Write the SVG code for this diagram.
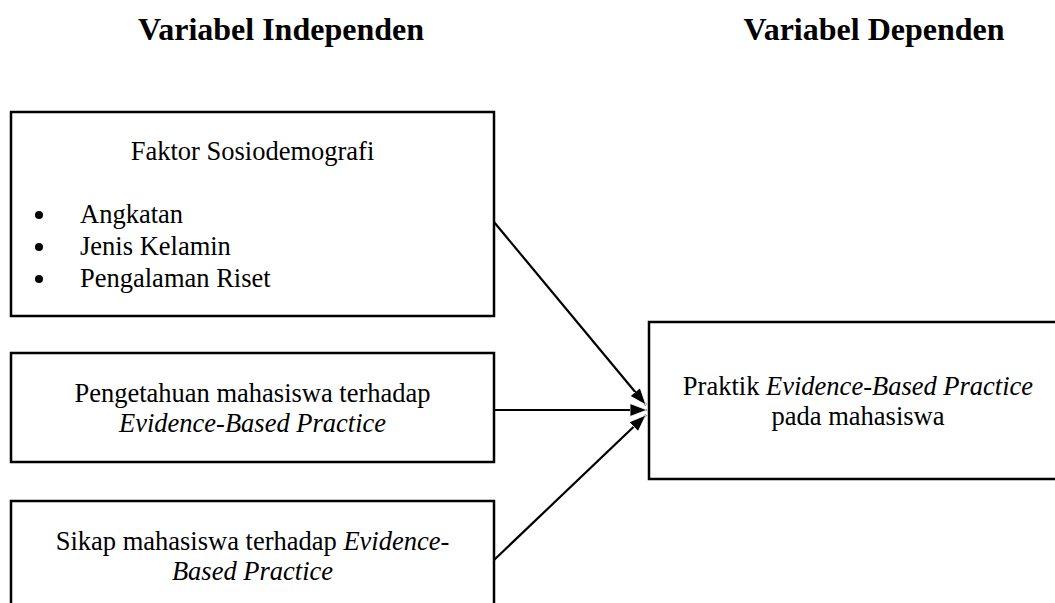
<svg xmlns="http://www.w3.org/2000/svg" width="1055" height="603" viewBox="0 0 1055 603">
<style>
.box{fill:#fff;stroke:#000;stroke-width:2.5}
.t{font-family:"Liberation Serif","Times New Roman",serif;font-size:26.5px;fill:#000}
.h{font-family:"Liberation Serif","Times New Roman",serif;font-size:32px;font-weight:bold;fill:#000}
.c{stroke:#000;stroke-width:2.2;fill:none}
.i{font-style:italic}
</style>
<defs>
<marker id="arr" viewBox="0 0 17 13" refX="17" refY="6.5" markerWidth="17" markerHeight="13" markerUnits="userSpaceOnUse" orient="auto">
<path d="M0,0 L17,6.5 L0,13 Z" fill="#000" stroke="#fff" stroke-width="0.8"/>
</marker>
</defs>
<text class="h" x="281" y="40" text-anchor="middle">Variabel Independen</text>
<text class="h" x="874" y="40" text-anchor="middle">Variabel Dependen</text>
<g id="connectors">
<line class="c" x1="494" y1="222" x2="646" y2="405" marker-end="url(#arr)"/>
<line class="c" x1="494" y1="410" x2="647" y2="410" marker-end="url(#arr)"/>
<line class="c" x1="494" y1="560" x2="646" y2="415" marker-end="url(#arr)"/>
</g>
<g id="node-sosiodemografi">
<rect class="box" x="11" y="112" width="483" height="204"/>
<text class="t" x="252.5" y="160" text-anchor="middle">Faktor Sosiodemografi</text>
<circle cx="39" cy="215" r="4"/>
<circle cx="39" cy="247" r="4"/>
<circle cx="39" cy="279" r="4"/>
<text class="t" x="80" y="223">Angkatan</text>
<text class="t" x="80" y="255">Jenis Kelamin</text>
<text class="t" x="80" y="287">Pengalaman Riset</text>
</g>
<g id="node-pengetahuan">
<rect class="box" x="11" y="353" width="483" height="109"/>
<text class="t" x="252.5" y="402" text-anchor="middle">Pengetahuan mahasiswa terhadap</text>
<text class="t i" x="252.5" y="432" text-anchor="middle">Evidence-Based Practice</text>
</g>
<g id="node-sikap">
<rect class="box" x="11" y="501" width="483" height="120"/>
<text class="t" x="252.5" y="550" text-anchor="middle">Sikap mahasiswa terhadap <tspan class="i">Evidence-</tspan></text>
<text class="t i" x="252.5" y="580" text-anchor="middle">Based Practice</text>
</g>
<g id="node-praktik">
<rect class="box" x="649" y="322" width="418" height="157"/>
<text class="t" x="858" y="395" text-anchor="middle">Praktik <tspan class="i">Evidence-Based Practice</tspan></text>
<text class="t" x="858" y="425" text-anchor="middle">pada mahasiswa</text>
</g>
</svg>
